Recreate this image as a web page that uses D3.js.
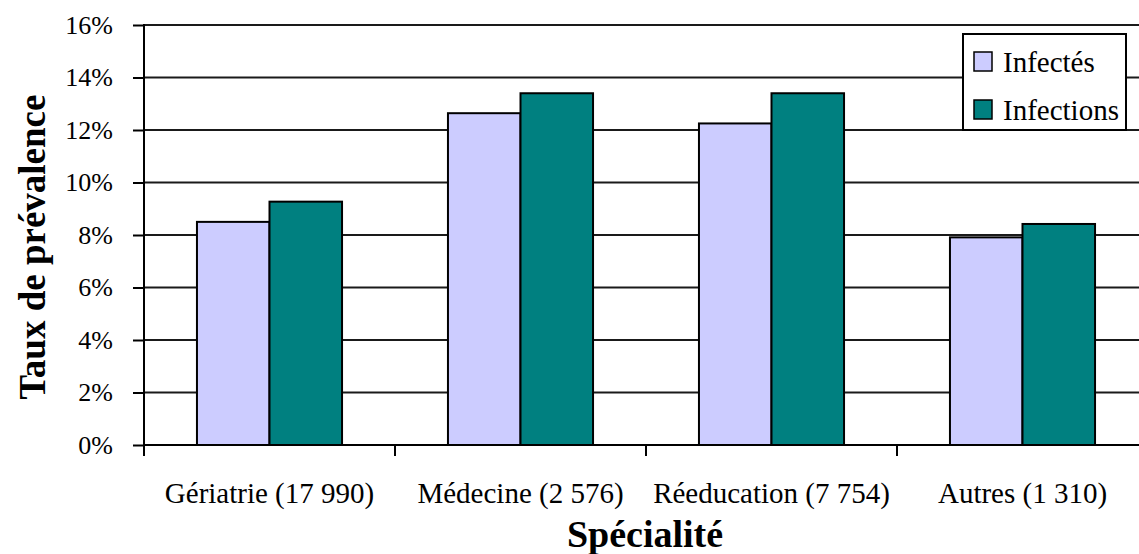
<!DOCTYPE html>
<html>
<head>
<meta charset="utf-8">
<script src="https://cdn.jsdelivr.net/npm/d3@7"></script>
<style>
  html, body { margin: 0; padding: 0; background: #fff; }
  svg { display: block; }
  svg text { font-family: "Liberation Serif", "Times New Roman", serif !important; fill: #000; }
</style>
</head>
<body>
<svg id="chart" width="1139" height="554"></svg>
<script>
// Prevalence rate by speciality (number of patients in brackets)
const categories = ["Gériatrie (17 990)", "Médecine (2 576)", "Réeducation (7 754)", "Autres (1 310)"];
const seriesNames = ["Infectés", "Infections"];
const infectes = [0.085, 0.1264, 0.1225, 0.0791];
const infections = [0.0927, 0.134, 0.134, 0.0842];
const yTicks = [0, 0.02, 0.04, 0.06, 0.08, 0.10, 0.12, 0.14, 0.16];
const colors = ["#CCCCFF", "#008080"];

const svg = d3.select("#chart");
const plotLeft = 144, plotRight = 1148, plotTop = 25, plotBottom = 445;

const x = d3.scaleBand().domain(categories).range([plotLeft, plotRight]).padding(0);
const bandW = x.bandwidth();
const barW = bandW * 0.289;
const sub = d3.scaleBand().domain(seriesNames).range([0, barW * 2]).padding(0);
const y = d3.scaleLinear().domain([0, 0.16]).range([plotBottom, plotTop]);

// horizontal gridlines
svg.append("g").selectAll("line").data(yTicks).join("line")
  .attr("x1", plotLeft).attr("x2", plotRight)
  .attr("y1", d => y(d)).attr("y2", d => y(d))
  .attr("stroke", "#1a1a1a").attr("stroke-width", 2);

// bars
const series = [infectes, infections];
const groups = svg.append("g").selectAll("g").data(categories).join("g")
  .attr("transform", c => `translate(${x(c) + (bandW - barW * 2) / 2},0)`);
groups.selectAll("rect").data((c, i) => seriesNames.map((s, j) => ({ s, v: series[j][i], j })))
  .join("rect")
  .attr("x", d => sub(d.s))
  .attr("width", sub.bandwidth())
  .attr("y", d => y(d.v))
  .attr("height", d => plotBottom - y(d.v))
  .attr("fill", d => colors[d.j])
  .attr("stroke", "#000").attr("stroke-width", 2);

// y axis
const yAxis = d3.axisLeft(y).tickValues(yTicks)
  .tickFormat(d3.format(".0%")).tickSize(11).tickPadding(20);
const gy = svg.append("g").attr("transform", `translate(${plotLeft},0)`).call(yAxis);
gy.select(".domain").remove();
gy.selectAll(".tick line").attr("stroke", "#000").attr("stroke-width", 2);
gy.selectAll(".tick text").style("font-size", "26px");
svg.append("line").attr("x1", plotLeft).attr("x2", plotLeft).attr("y1", plotTop - 1).attr("y2", plotBottom + 11)
  .attr("stroke", "#000").attr("stroke-width", 2);

// x axis
svg.append("line").attr("x1", plotLeft).attr("x2", plotRight).attr("y1", plotBottom).attr("y2", plotBottom)
  .attr("stroke", "#000").attr("stroke-width", 2);
const xAxis = d3.axisBottom(x).tickSize(0).tickPadding(37);
const gx = svg.append("g").attr("transform", `translate(0,${plotBottom})`).call(xAxis);
gx.select(".domain").remove();
gx.selectAll(".tick text").style("font-size", "29px");
svg.append("g").selectAll("line").data(categories).join("line")
  .attr("x1", c => x(c)).attr("x2", c => x(c))
  .attr("y1", plotBottom).attr("y2", plotBottom + 11)
  .attr("stroke", "#000").attr("stroke-width", 2);

// axis titles
svg.append("text").attr("x", 645).attr("y", 547).attr("text-anchor", "middle")
  .style("font-size", "38px").style("font-weight", "bold").text("Spécialité");
svg.append("text").attr("transform", "translate(45,247) rotate(-90)").attr("text-anchor", "middle")
  .style("font-size", "37px").style("font-weight", "bold").text("Taux de prévalence");

// legend
const lg = svg.append("g");
lg.append("rect").attr("x", 963).attr("y", 34).attr("width", 163).attr("height", 96)
  .attr("fill", "#fff").attr("stroke", "#000").attr("stroke-width", 2);
seriesNames.forEach((s, i) => {
  lg.append("rect").attr("x", 974).attr("y", 52 + i * 48).attr("width", 18).attr("height", 19)
    .attr("fill", colors[i]).attr("stroke", "#000").attr("stroke-width", 1.5);
  lg.append("text").attr("x", 1003).attr("y", 72 + i * 48).style("font-size", "29px").text(s);
});
</script>
</body>
</html>
